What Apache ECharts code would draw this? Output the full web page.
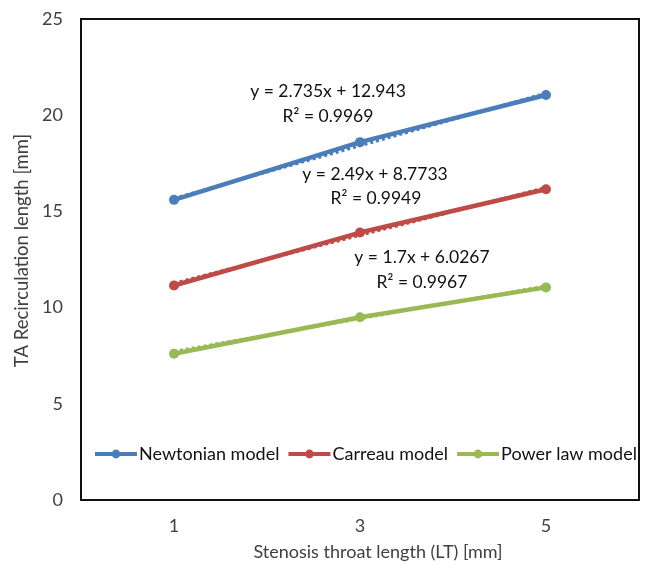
<!DOCTYPE html>
<html><head><meta charset="utf-8">
<script src="https://cdn.jsdelivr.net/npm/echarts@6/dist/echarts.min.js"></script>
<style>html,body{margin:0;padding:0;background:#fff}#c{width:651px;height:566px}</style>
</head><body><div id="c"></div>
<script>
const categories = ['1', '3', '5'];
const newtonian = [15.6, 18.6, 21.05];
const carreau = [11.15, 13.9, 16.15];
const powerLaw = [7.6, 9.5, 11.05];
const trendNewtonian = [2.735, 12.943];
const trendCarreau = [2.49, 8.7733];
const trendPower = [1.7, 6.0267];
const eqLabels = [
  ['y = 2.735x + 12.943', 'R\u00b2 = 0.9969'],
  ['y = 2.49x + 8.7733', 'R\u00b2 = 0.9949'],
  ['y = 1.7x + 6.0267', 'R\u00b2 = 0.9967']
];
const yTicks = [0, 5, 10, 15, 20, 25];

const FONT = 'Lato';
const colors = ['#4A7EBB', '#BE4B48', '#98B954'];
function trend(c) { return categories.map((_, i) => +(c[0] * (i + 1) + c[1]).toFixed(4)); }

const chart = echarts.init(document.getElementById('c'));
const main = (name, data, color) => ({
  name, type: 'line', data, z: 3,
  symbol: 'circle', symbolSize: 10,
  itemStyle: { color },
  lineStyle: { color, width: 4.5 }
});
const tl = (data, color) => ({
  type: 'line', data, z: 2, symbol: 'none', silent: true,
  lineStyle: { color, width: 3, type: 'dotted' }
});
const eq = (x, y, t) => ({ type: 'text', x, y, style: { text: t, font: '17.5px ' + FONT, fill: '#111', align: 'center', verticalAlign: 'middle' } });
chart.setOption({
  animation: false,
  textStyle: { fontFamily: FONT },
  grid: { left: 81, right: 12, top: 19, bottom: 64, show: true, borderColor: '#111', borderWidth: 2 },
  legend: {
    data: ['Newtonian model', 'Carreau model', 'Power law model'],
    left: 93, top: 445, width: 556, padding: 0, itemGap: 7, itemWidth: 42, itemHeight: 11,
    lineStyle: { width: 4 },
    textStyle: { fontFamily: FONT, fontSize: 18, color: '#111', padding: [0, 0, 0, -3] }
  },
  xAxis: {
    type: 'category', data: categories,
    name: 'Stenosis throat length (LT) [mm]', nameLocation: 'middle', nameGap: 43,
    nameTextStyle: { fontFamily: FONT, fontSize: 18, color: '#404040', padding: [0, 0, 0, 36] },
    axisLine: { lineStyle: { color: '#111', width: 2 } },
    axisTick: { show: false },
    axisLabel: { fontFamily: FONT, fontSize: 18, color: '#404040', margin: 17 }
  },
  yAxis: {
    type: 'value', min: yTicks[0], max: yTicks[yTicks.length - 1], interval: 5,
    name: 'TA Recirculation length [mm]', nameLocation: 'middle', nameGap: 40,
    nameTextStyle: { fontFamily: FONT, fontSize: 18.5, color: '#404040', padding: [0, 0, 0, 18] },
    axisLine: { show: true, lineStyle: { color: '#111', width: 2 } },
    axisTick: { show: false },
    splitLine: { show: false },
    axisLabel: { fontFamily: FONT, fontSize: 18, color: '#404040', margin: 18 }
  },
  graphic: [
    eq(328, 91, eqLabels[0][0]), eq(328, 116, eqLabels[0][1]),
    eq(375, 174, eqLabels[1][0]), eq(376, 198, eqLabels[1][1]),
    eq(422, 257, eqLabels[2][0]), eq(422, 282, eqLabels[2][1])
  ],
  series: [
    tl(trend(trendNewtonian), colors[0]),
    tl(trend(trendCarreau), colors[1]),
    tl(trend(trendPower), colors[2]),
    main('Newtonian model', newtonian, colors[0]),
    main('Carreau model', carreau, colors[1]),
    main('Power law model', powerLaw, colors[2])
  ]
});
</script></body></html>
